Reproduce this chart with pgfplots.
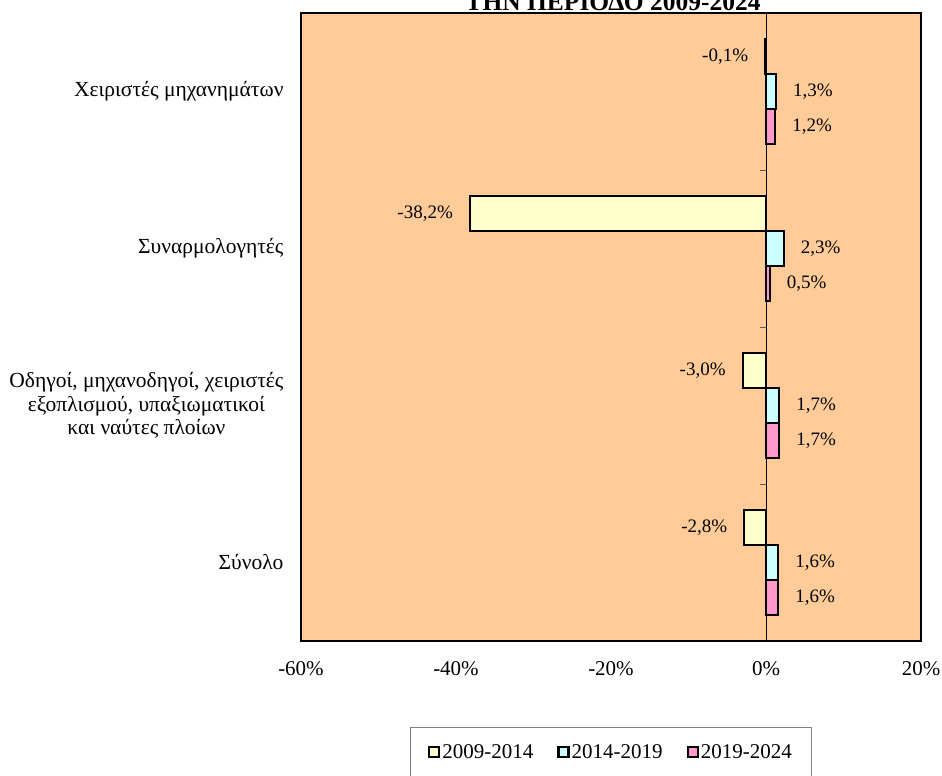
\documentclass[border=0pt]{standalone}
\usepackage{fontspec}
\setmainfont{Liberation Serif}
\usepackage{pgfplots}
\pgfplotsset{compat=1.18}

\definecolor{bgpeach}{HTML}{FFCC99}
\definecolor{barY}{HTML}{FFFFCC}
\definecolor{barC}{HTML}{CCFFFF}
\definecolor{barP}{HTML}{FF99CC}

\protected\def\labA{Χειριστές μηχανημάτων}
\protected\def\labB{Συναρμολογητές}
\protected\def\labC{Οδηγοί, μηχανοδηγοί, χειριστές\\εξοπλισμού, υπαξιωματικοί\\και ναύτες πλοίων}
\protected\def\labD{Σύνολο}

\pgfplotsset{
  sq legend/.style={legend image code/.code={
    \draw[##1,line width=2.2pt] (0pt,-5pt) rectangle (10pt,5pt);}},
}

\begin{document}
\begin{tikzpicture}[font=\fontsize{21}{23.5}\selectfont]
\begin{axis}[
  at={(0,0)}, anchor=south west,
  scale only axis, width=620pt, height=628pt,
  xbar, bar width=35pt,
  xmin=-60, xmax=20, ymin=0.5, ymax=4.5, y dir=reverse,
  axis background/.style={fill=bgpeach},
  axis line style={line width=2.5pt},
  major tick length=0pt,
  /pgf/number format/assume math mode=true,
  xtick={-60,-40,-20,0,20},
  xticklabel={\pgfmathprintnumber{\tick}\%},
  xticklabel style={yshift=-17pt},
  ytick={1,2,3,4},
  yticklabels={\labA,\labB,\labC,\labD},
  yticklabel style={align=center, xshift=-14pt, font=\fontsize{21.5}{23.5}\selectfont},
  nodes near coords={\pgfmathprintnumber[fixed,fixed zerofill,precision=1,use comma]{\pgfplotspointmeta}\%},
  nodes near coords align={horizontal},
  every node near coord/.append style={font=\fontsize{19}{22}\selectfont, inner xsep=16pt, text=black},
  legend style={at={(0.5,-0.137)}, anchor=north, legend columns=3,
    draw=gray, line width=0.8pt, inner xsep=18pt, inner ysep=15pt,
    font=\fontsize{21}{23.5}\selectfont},
  legend cell align=left,
  /tikz/every even column/.append style={column sep=22pt},
]
\addplot[sq legend, draw=black, line width=2.2pt, fill=barY, bar shift=35pt]
  coordinates {(-0.1,1) (-38.2,2) (-3.0,3) (-2.8,4)};
\addplot[sq legend, draw=black, line width=2.2pt, fill=barC, bar shift=0pt]
  coordinates {(1.3,1) (2.3,2) (1.7,3) (1.6,4)};
\addplot[sq legend, draw=black, line width=2.2pt, fill=barP, bar shift=-35pt]
  coordinates {(1.2,1) (0.5,2) (1.7,3) (1.6,4)};
\draw[line width=0.9pt] (axis cs:0,0.5) -- (axis cs:0,4.5);
\pgfplotsinvokeforeach{1.5,2.5,3.5}{
  \draw[gray!70!black, line width=0.9pt] (axis cs:0,#1) -- ++(-6pt,0pt);
}
\legend{2009-2014,2014-2019,2019-2024}
\end{axis}
\node[font=\bfseries\fontsize{25.5}{28}\selectfont, anchor=base] at (312pt,630pt) {ΤΗΝ ΠΕΡΙΟΔΟ 2009-2024};
\pgfresetboundingbox
\useasboundingbox (-301pt,-135pt) rectangle (641pt,641pt);
\end{tikzpicture}
\end{document}
